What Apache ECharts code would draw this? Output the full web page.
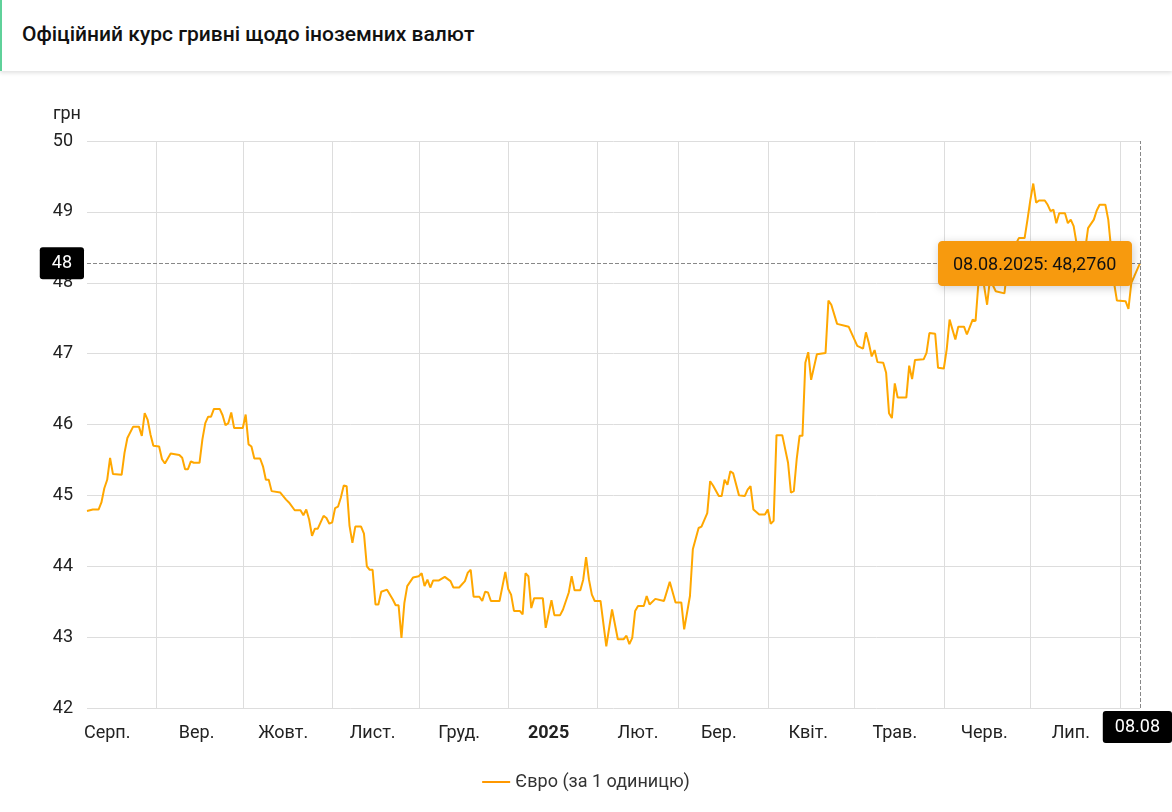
<!DOCTYPE html>
<html>
<head>
<meta charset="utf-8">
<script src="https://cdn.jsdelivr.net/npm/echarts@6/dist/echarts.min.js"></script>
<style>
  body { margin: 0; background: #fff; font-family: Roboto, sans-serif; }
  #head { height: 71px; border-left: 2px solid #5fd19a; box-shadow: 0 2px 4px rgba(0,0,0,0.12);
    box-sizing: border-box; padding-left: 20px; line-height: 68px; font-size: 21px; font-weight: 500; color: #111; }
  #chart { width: 1172px; height: 740px; margin-top: 1px; }
</style>
</head>
<body>
<div id="head">Офіційний курс гривні щодо іноземних валют</div>
<div id="chart"></div>
<script>
// перший день ряду: 08.08.2024, останній 08.08.2025
var startDate = Date.UTC(2024, 7, 8);
var dayCount = 366;
var monthNames = ["Січ.", "Лют.", "Бер.", "Квіт.", "Трав.", "Черв.", "Лип.", "Серп.", "Вер.", "Жовт.", "Лист.", "Груд."];
var yTicks = [42, 43, 44, 45, 46, 47, 48, 49, 50];

// день від початку і курс євро
var pointDays = [0,2,4,5,6,7,8,9,12,13,14,16,18,19,20,21,22,23,25,26,27,29,32,33,34,35,36,37,39,40,41,42,43,44,46,47,48,49,50,51,54,55,56,57,58,60,61,62,63,64,67,69,70,72,74,75,76,77,78,79,80,82,83,84,85,86,87,88,89,90,91,92,93,95,96,97,98,99,100,101,102,104,106,107,108,109,110,111,113,115,116,117,118,119,120,122,124,126,127,129,131,132,133,134,136,137,138,139,140,143,145,146,147,148,150,151,152,153,154,155,158,159,161,162,164,165,167,168,169,171,172,173,174,175,176,178,180,182,184,186,187,188,189,190,191,193,194,195,197,200,202,204,206,207,209,210,212,213,215,216,217,219,220,221,222,223,224,226,228,229,230,231,233,235,236,237,238,239,241,243,244,245,246,247,248,249,250,251,253,256,257,258,260,263,264,267,269,270,271,272,273,274,276,277,278,279,280,281,284,285,286,287,290,291,292,294,295,297,298,299,301,302,304,305,307,308,309,310,312,313,315,318,319,321,323,325,326,327,328,329,330,332,333,334,335,336,337,339,340,341,342,343,344,346,347,349,350,351,353,354,355,356,357,360,361,362,363,365];
var euroValues = [44.78,44.80,44.80,44.9,45.1,45.22,45.53,45.30,45.29,45.6,45.81,45.97,45.97,45.84,46.16,46.07,45.86,45.70,45.69,45.51,45.45,45.59,45.57,45.53,45.37,45.37,45.48,45.46,45.46,45.79,46.02,46.11,46.11,46.22,46.22,46.13,45.99,46.02,46.17,45.95,45.95,46.14,45.72,45.69,45.52,45.52,45.41,45.22,45.22,45.06,45.04,44.94,44.90,44.79,44.79,44.72,44.80,44.66,44.43,44.53,44.53,44.71,44.68,44.60,44.62,44.82,44.84,44.97,45.14,45.13,44.57,44.33,44.56,44.56,44.46,44.00,43.95,43.95,43.46,43.46,43.64,43.67,43.53,43.45,43.45,42.99,43.48,43.72,43.84,43.86,43.90,43.72,43.81,43.70,43.80,43.80,43.85,43.79,43.70,43.70,43.79,43.91,43.95,43.57,43.57,43.51,43.64,43.63,43.51,43.51,43.92,43.68,43.60,43.37,43.37,43.32,43.90,43.86,43.41,43.55,43.55,43.13,43.52,43.31,43.31,43.39,43.63,43.86,43.66,43.66,43.81,44.13,43.81,43.60,43.51,43.51,42.87,43.39,42.97,42.97,43.02,42.90,42.99,43.37,43.44,43.44,43.58,43.46,43.54,43.51,43.78,43.49,43.49,43.11,43.58,44.24,44.54,44.56,44.75,45.20,45.14,44.99,44.99,45.22,45.15,45.34,45.31,45.00,44.99,45.08,45.13,44.80,44.73,44.73,44.80,44.60,44.64,45.85,45.85,45.46,45.04,45.06,45.51,45.84,45.84,46.87,47.02,46.63,46.99,47.01,47.75,47.69,47.42,47.39,47.38,47.11,47.07,47.30,47.15,46.96,47.05,46.88,46.87,46.73,46.16,46.09,46.58,46.38,46.38,46.83,46.64,46.91,46.92,47.01,47.29,47.28,46.80,46.79,47.06,47.48,47.20,47.38,47.38,47.27,47.48,47.46,48.00,48.20,47.69,48.05,47.88,47.85,48.2,48.47,48.63,48.63,48.89,49.17,49.40,49.13,49.16,49.16,49.10,49.01,49.03,48.84,48.98,48.98,48.84,48.89,48.80,48.56,48.47,48.47,48.77,48.89,49.02,49.10,49.10,48.89,48.47,48.00,47.75,47.74,47.63,48.00,48.09,48.276];

function pad(n) { return (n < 10 ? "0" : "") + n; }
var dayDates = [];
for (var i = 0; i < dayCount; i++) dayDates.push(new Date(startDate + i * 86400000));
var categories = dayDates.map(function (d) { return d.toISOString().slice(0, 10); });
var seriesData = pointDays.map(function (d, i) { return [categories[d], euroValues[i]]; });

var chart = echarts.init(document.getElementById("chart"));
var font = "Roboto";
chart.setOption({
  animation: false,
  textStyle: { fontFamily: font },
  grid: { left: 87, right: 32, top: 69, bottom: 104 },
  legend: {
    bottom: 16, left: "center", icon: "rect", itemWidth: 28, itemHeight: 2,
    textStyle: { fontSize: 18, color: "#333", fontFamily: font },
    data: ["Євро (за 1 одиницю)"]
  },
  tooltip: {
    trigger: "axis", alwaysShowContent: true,
    backgroundColor: "#f79a0e", borderColor: "#f79a0e", padding: [8, 14],
    textStyle: { color: "#111", fontSize: 18, fontFamily: font },
    position: function (pt, params, dom, rect, size) { return [pt[0] - size.contentSize[0] - 8, pt[1] - size.contentSize[1] / 2]; },
    formatter: function (params) {
      var p = params[0];
      var d = new Date(p.axisValue);
      return pad(d.getUTCDate()) + "." + pad(d.getUTCMonth() + 1) + "." + d.getUTCFullYear() + ": " + p.data[1].toFixed(4).replace(".", ",");
    },
    axisPointer: {
      type: "cross",
      lineStyle: { color: "#888", type: "dashed", width: 1 },
      crossStyle: { color: "#888", type: "dashed", width: 1 },
      label: { backgroundColor: "#000", color: "#fff", fontSize: 18, padding: [7, 12], fontFamily: font }
    }
  },
  xAxis: {
    type: "category", boundaryGap: false, data: categories,
    axisLine: { show: false }, axisTick: { show: false },
    splitLine: {
      show: true, lineStyle: { color: "#ddd" },
      interval: function (i) { return dayDates[i].getUTCDate() === 1; }
    },
    axisLabel: {
      interval: function (i) { return dayDates[i].getUTCDate() === 15; },
      margin: 16, fontSize: 18, color: "#222", fontFamily: font,
      formatter: function (v) {
        var d = new Date(v);
        return d.getUTCMonth() === 0 ? "{b|" + d.getUTCFullYear() + "}" : monthNames[d.getUTCMonth()];
      },
      rich: { b: { fontWeight: "bold", fontSize: 18, color: "#222", fontFamily: font } }
    },
    axisPointer: {
      label: { formatter: function (p) { var d = new Date(p.value); return pad(d.getUTCDate()) + "." + pad(d.getUTCMonth() + 1); } }
    }
  },
  yAxis: {
    type: "value", min: yTicks[0], max: yTicks[yTicks.length - 1], interval: 1,
    name: "грн", nameGap: 18, nameTextStyle: { fontSize: 18, color: "#222", align: "right", padding: [0, 6, 0, 0] },
    axisLine: { show: false }, axisTick: { show: false },
    axisLabel: { fontSize: 18, color: "#222", margin: 14 },
    splitLine: { lineStyle: { color: "#ddd" } },
    axisPointer: { label: { formatter: function (p) { return Math.floor(p.value); } } }
  },
  series: [{
    name: "Євро (за 1 одиницю)", type: "line", data: seriesData, symbol: "none",
    color: "#ff9800", lineStyle: { width: 2, color: "#ff9800" }
  }]
});
setTimeout(function () {
  chart.dispatchAction({ type: "showTip", seriesIndex: 0, dataIndex: seriesData.length - 1 });
}, 50);
</script>
</body>
</html>
